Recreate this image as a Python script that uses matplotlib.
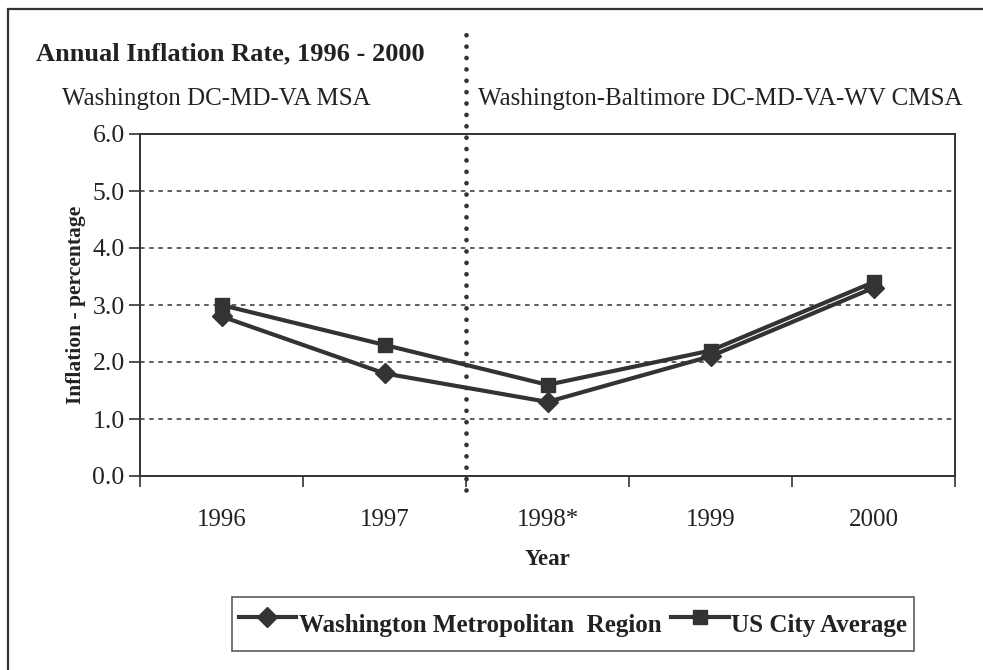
import numpy as np
import matplotlib
matplotlib.use("Agg")
import matplotlib.pyplot as plt
from matplotlib.patches import Rectangle

# data
years = ["1996", "1997", "1998*", "1999", "2000"]
washington = [2.8, 1.8, 1.3, 2.1, 3.3]
us_average = [3.0, 2.3, 1.6, 2.2, 3.4]
y_ticks = [0.0, 1.0, 2.0, 3.0, 4.0, 5.0, 6.0]

plt.rcParams['font.family'] = ['Liberation Serif', 'DejaVu Serif']
ink = '#333333'
txt = '#222222'

W, H = 983, 670
fig = plt.figure(figsize=(W / 100, H / 100), dpi=100)
fig.patch.set_facecolor('white')

# outer frame of the chart area
fig.patches.append(Rectangle((8 / W, -0.05), 1.2, 1 - 9 / H + 0.05,
                             transform=fig.transFigure, fill=False,
                             edgecolor=ink, linewidth=1.6))

left, right, top, bottom = 140, 955, 134, 476
ax = fig.add_axes([left / W, 1 - bottom / H, (right - left) / W, (bottom - top) / H])

x = np.arange(len(years))
ax.plot(x, washington, color=ink, linewidth=3, marker='D', markersize=10,
        label='Washington Metropolitan  Region')
ax.plot(x, us_average, color=ink, linewidth=3, marker='s', markersize=10,
        label='US City Average')

ax.set_xlim(-0.5, len(years) - 0.5)
ax.set_ylim(0, 6)
ax.set_yticks(y_ticks)
ax.set_yticklabels(["%.1f" % v for v in y_ticks], fontsize=18.5, color=txt)
ax.set_xticks(np.arange(len(years) + 1) - 0.5)
ax.set_xticklabels([])
ax.set_xticks(x, minor=True)
ax.set_xticklabels(years, minor=True, fontsize=18, color=txt)
ax.tick_params(axis='x', which='major', direction='out', length=8, width=1.2, color=ink)
ax.tick_params(axis='x', which='minor', length=0, pad=24)
ax.tick_params(axis='y', direction='out', length=8, width=1.2, color=ink, pad=3)

for v in y_ticks[1:-1]:
    ax.axhline(v, color=ink, linewidth=1.1, linestyle=(0, (3, 3)), zorder=0)
for s in ax.spines.values():
    s.set_color(ink)
    s.set_linewidth(1.4)

ax.set_ylabel('Inflation - percentage', fontsize=15.5, fontweight='bold',
              labelpad=5, color=txt)
ax.set_xlabel('Year', fontsize=16.5, fontweight='bold', labelpad=13, color=txt)

# dotted divider between the two survey areas
ax.axvline(1.5, ymin=-0.04, ymax=1.31, clip_on=False, color=ink, linewidth=3.4,
           linestyle=(0, (0.01, 2.4)), dash_capstyle='round')

fig.text(36 / W, 1 - 54 / H, 'Annual Inflation Rate, 1996 - 2000', fontsize=19,
         fontweight='bold', va='center', ha='left', color=txt)
fig.text(62 / W, 1 - 99 / H, 'Washington DC-MD-VA MSA', fontsize=18,
         va='center', ha='left', color=txt)
fig.text(478 / W, 1 - 99 / H, 'Washington-Baltimore DC-MD-VA-WV CMSA', fontsize=18,
         va='center', ha='left', color=txt)

leg = fig.legend(loc='center', bbox_to_anchor=(573 / W, 1 - 624 / H), ncol=2,
                 frameon=True, fancybox=False, edgecolor=ink, handlelength=2.3,
                 handleheight=2.2, handletextpad=0.1, columnspacing=0.4,
                 borderpad=0.25, labelcolor=txt,
                 prop={'size': 18, 'weight': 'bold'})
leg.get_frame().set_linewidth(1.2)

fig.savefig('out.png', dpi=100)
